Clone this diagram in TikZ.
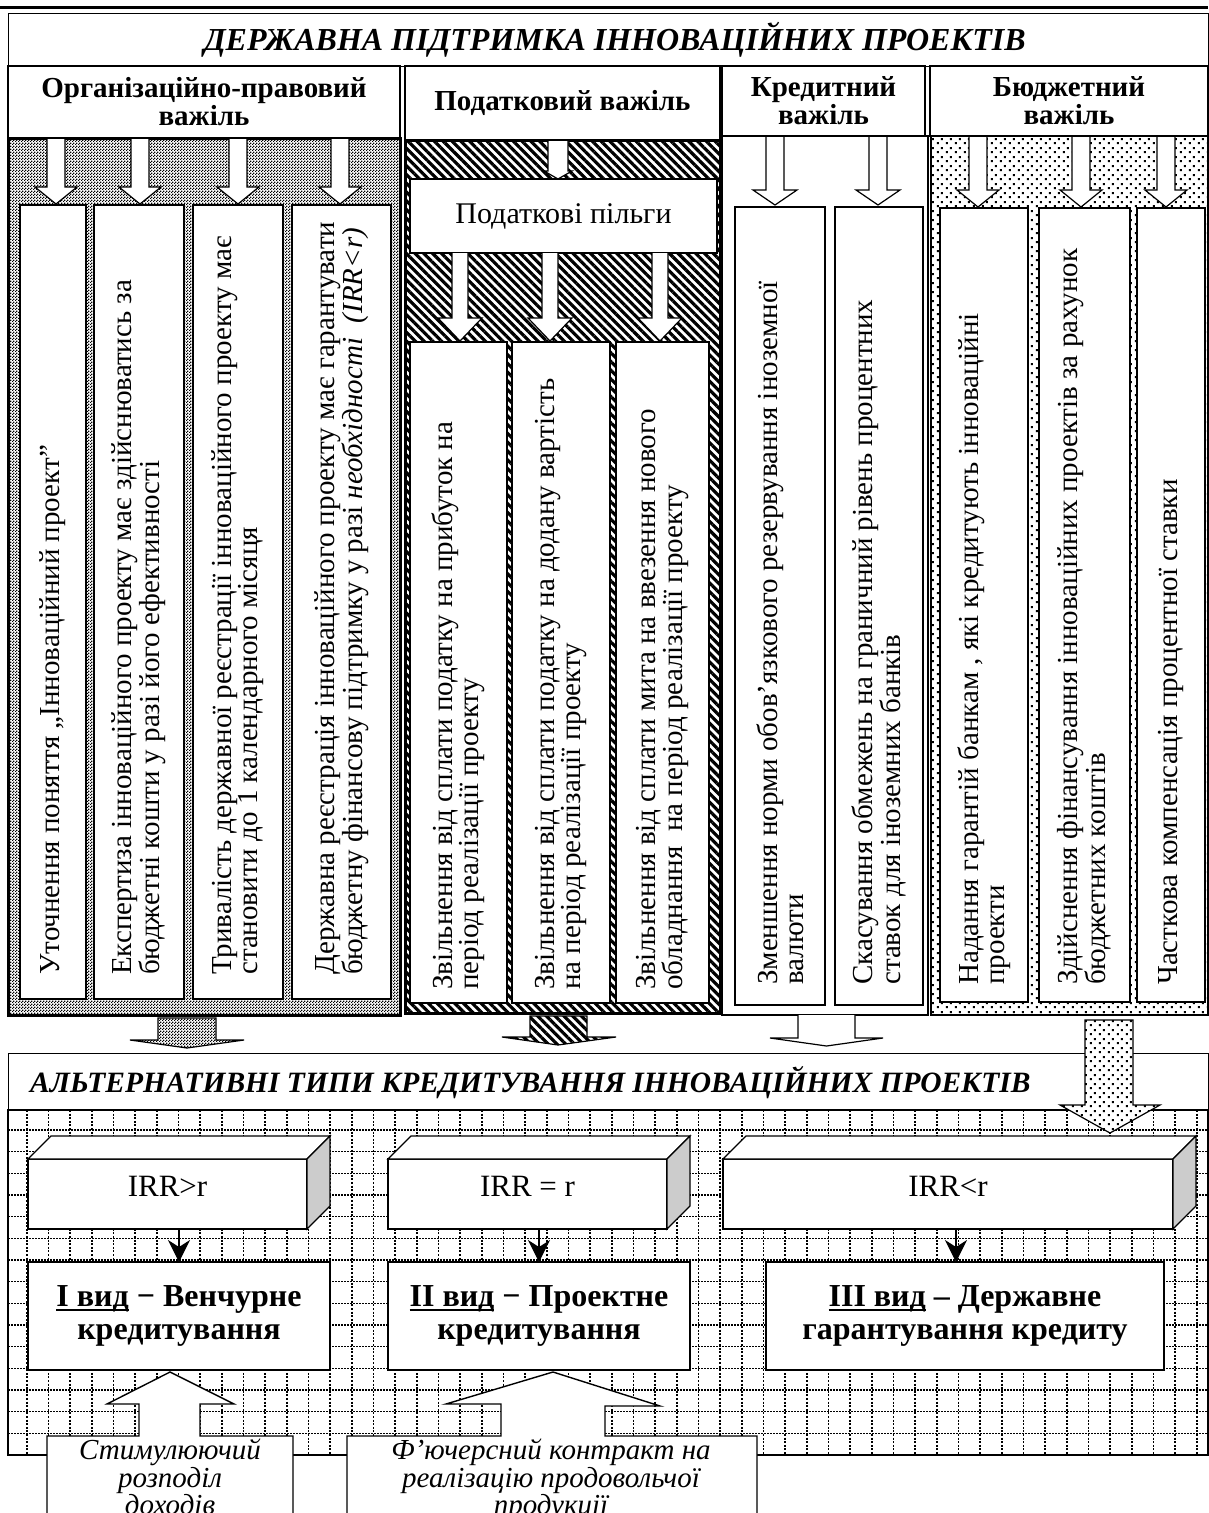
\documentclass[tikz,border=0pt]{standalone}
\usepackage{fontspec}
\setmainfont{Liberation Serif}
\usetikzlibrary{patterns,patterns.meta,arrows.meta,calc}

% fine black/white checkerboard
\pgfdeclarepatternformonly{checker}{\pgfpointorigin}{\pgfqpoint{3pt}{3pt}}{\pgfqpoint{3pt}{3pt}}{%
  \pgfpathrectangle{\pgfpointorigin}{\pgfqpoint{1.5pt}{1.5pt}}%
  \pgfpathrectangle{\pgfqpoint{1.5pt}{1.5pt}}{\pgfqpoint{1.5pt}{1.5pt}}%
  \pgfusepath{fill}}
% staggered square dots
\pgfdeclarepatternformonly{stagdots}{\pgfpointorigin}{\pgfqpoint{9pt}{9pt}}{\pgfqpoint{9pt}{9pt}}{%
  \pgfpathrectangle{\pgfqpoint{1pt}{1pt}}{\pgfqpoint{2.2pt}{2.2pt}}%
  \pgfpathrectangle{\pgfqpoint{5.5pt}{5.5pt}}{\pgfqpoint{2.2pt}{2.2pt}}%
  \pgfusepath{fill}}

\newcommand\fsz[2]{\fontsize{#1}{#2}\selectfont}
\newcommand\undl[1]{\setbox0\hbox{#1}\rlap{\rule[-4.5pt]{\wd0}{2.4pt}}\box0}
% block arrow: style, x, y top, y head base, y tip, half shaft, half head
\newcommand\blockarrow[7]{%
  \path[#1] (#2-#6,#3) -- (#2-#6,#4) -- (#2-#7,#4) -- (#2,#5) -- (#2+#7,#4) -- (#2+#6,#4) -- (#2+#6,#3);}
% cell with vertical text: name, x1, y1, x2, y2, bottom pad, xshift, text
\newcommand\vcell[8]{%
  \node[cell, minimum width={#4-#2}, minimum height={#5-#3}, anchor=north west] (#1) at (#2,#3) {};
  \node[vtext, xshift=#7pt] (#1t) at ($(#1.south)+(0,-#6)$) {#8};}

\begin{document}
\begin{tikzpicture}[x=1pt,y=-1pt,
  cell/.style={draw,fill=white,line width=1.2pt,inner sep=0pt,outer sep=0pt},
  vtext/.style={rotate=90,anchor=west,align=left,inner sep=0pt,font=\fsz{29}{26}},
  hdr/.style={draw,line width=2pt,fill=white,inner sep=0pt,outer sep=0pt,align=center,font=\bfseries\fsz{29}{28}},
  warrow/.style={draw,fill=white,line width=1.2pt,line join=miter},
  region/.style={draw,line width=3pt},
  stripes/.style={pattern={Lines[angle=-45,distance=6.2pt,line width=3.2pt]}},
  gridv/.style={line width=1.6pt,dash pattern=on 2pt off 1.6pt},
  gridh/.style={line width=1.3pt,dash pattern=on 1.5pt off 1.5pt},
  cube/.style={draw,fill=white,line width=1.3pt,inner sep=0pt,outer sep=0pt},
  kind/.style={draw,fill=white,line width=2pt,inner sep=0pt,outer sep=0pt,align=center,font=\bfseries\fsz{32}{33}},
  callout/.style={draw,fill=white,line width=1.4pt,line join=miter},
  ctext/.style={align=center,inner sep=0pt,font=\itshape\fsz{29}{22}},
  pointer/.style={line width=1.3pt,-{Stealth[length=22pt,width=22pt,inset=7pt]}}
]
\useasboundingbox (0,0) rectangle (1208,1513);
\fill[white] (0,0) rectangle (1208,1513);

% ---------- title ----------
\draw[line width=3pt] (0,7) -- (1208,7);
\node[draw,line width=1.4pt,minimum width=1200,minimum height=53,anchor=north west,inner sep=0pt] (title) at (8,13) {};
\node[font=\bfseries\itshape\fsz{32}{33},inner sep=0pt] at ([xshift=6pt]title.center) {ДЕРЖАВНА ПІДТРИМКА ІННОВАЦІЙНИХ ПРОЕКТІВ};

% ---------- headers ----------
\node[hdr,minimum width=392,minimum height=72,anchor=north west] (h1) at (8,66) {Організаційно-правовий\\важіль};
\node[hdr,minimum width=315,minimum height=74,anchor=north west] (h2) at (405,66) {Податковий важіль};
\node[hdr,minimum width=203,minimum height=70,anchor=north west] (h3) at (722,66) {Кредитний\\важіль};
\node[hdr,minimum width=278,minimum height=70,anchor=north west] (h4) at (930,66) {Бюджетний\\важіль};

% ---------- column regions ----------
\path[region,preaction={fill=white},pattern=checker] (8,138) rectangle (400,1015);
\path[region,preaction={fill=white},stripes] (405,140) rectangle (720,1013);
\path[draw,line width=1.5pt,fill=white] (722,136) rectangle (928,1015);
\path[draw,line width=1.5pt,preaction={fill=white},pattern=stagdots] (931,136) rectangle (1208,1015);

% organisational-legal lever
\foreach \x in {56,140,238,340} {\blockarrow{warrow}{\x}{139}{187}{204}{9}{21}}
\vcell{a1}{20}{205}{86}{999}{24}{0}{Уточнення поняття „Інноваційний проект”}
\vcell{a2}{94}{205}{184}{999}{24}{0}{Експертиза інноваційного проекту має здійснюватись за\\бюджетні кошти у разі його ефективності}
\vcell{a3}{193}{205}{283}{999}{24}{0}{Тривалість державної реєстрації інноваційного проекту має\\становити до 1 календарного місяця}
\vcell{a4}{292}{205}{391}{999}{24}{0}{Державна реєстрація інноваційного проекту має гарантувати\\бюджетну фінансову підтримку у разі \textit{необхідності}\ \ \textit{(IRR<r)}}

% tax lever
\blockarrow{warrow}{558}{141}{171}{179}{10}{14}
\node[cell,minimum width=307,minimum height=74,anchor=north west,font=\fsz{30}{30}] (tb) at (410,179) {Податкові пільги};
\foreach \x in {460,550,660} {\blockarrow{warrow}{\x}{253}{318}{341}{8}{22}}
\vcell{b1}{410}{342}{507}{1003}{13}{0}{Звільнення від сплати податку на прибуток на\\період реалізації проекту}
\vcell{b2}{512}{342}{610}{1003}{13}{0}{Звільнення від сплати податку на додану вартість\\на період реалізації проекту}
\vcell{b3}{616}{342}{709}{1003}{13}{0}{Звільнення від сплати мита на ввезення нового\\обладнання\ \ на період реалізації проекту}

% credit lever
\foreach \x in {775,878} {\blockarrow{warrow}{\x}{137}{190}{205}{9}{22}}
\vcell{c1}{735}{207}{825}{1005}{20}{0}{Зменшення норми обов’язкового резервування іноземної\\валюти}
\vcell{c2}{835}{207}{923}{1005}{20}{0}{Скасування обмежень на граничний рівень процентних\\ставок для іноземних банків}

% budget lever
\foreach \x in {978,1081,1166} {\blockarrow{warrow}{\x}{137}{190}{207}{9}{21}}
\vcell{d1}{940}{208}{1028}{1002}{17}{0}{Надання гарантій банкам , які кредитують інноваційні\\проекти}
\vcell{d2}{1039}{208}{1130}{1002}{17}{0}{Здійснення фінансування інноваційних проектів за рахунок\\бюджетних коштів}
\vcell{d3}{1137}{208}{1205}{1002}{17}{0}{Часткова компенсація процентної ставки}

% ---------- arrows into the lower block ----------
\path[draw,line width=1.2pt,preaction={fill=white},pattern=checker]
  (158,1018) -- (158,1040) -- (130,1040) -- (187,1048) -- (244,1040) -- (216,1040) -- (216,1018) -- cycle;
\path[draw,line width=1.2pt,preaction={fill=white},stripes]
  (530,1016) -- (530,1037) -- (502,1037) -- (558,1045) -- (616,1037) -- (587,1037) -- (587,1016) -- cycle;
\blockarrow{warrow}{826.5}{1015}{1038}{1046}{28.5}{56.5}

% ---------- alternative crediting ----------
\node[draw,line width=1.4pt,fill=white,minimum width=1200,minimum height=57,anchor=north west,inner sep=0pt] (alt) at (8,1053) {};
\node[anchor=west,inner sep=0pt,font=\bfseries\itshape\fsz{29.5}{30}] at ([xshift=22pt]alt.west) {АЛЬТЕРНАТИВНІ ТИПИ КРЕДИТУВАННЯ ІННОВАЦІЙНИХ ПРОЕКТІВ};

\fill[white] (8,1110) rectangle (1208,1455);
\begin{scope}
  \clip (8,1110) rectangle (1208,1455);
  \foreach \i in {0,...,54} {\draw[gridv] ({26.7+21.67*\i},1110) -- ++(0,345);}
  \foreach \j in {0,...,15} {\draw[gridh] (8,{1130+21.67*\j}) -- (1208,{1130+21.67*\j});}
\end{scope}
\draw[line width=1.5pt] (8,1110) rectangle (1208,1455);

% dotted arrow from the budget lever
\path[draw,line width=1.2pt,preaction={fill=white},pattern=stagdots]
  (1085,1020) -- (1085,1105) -- (1060,1105) -- (1110,1133) -- (1160,1105) -- (1133,1105) -- (1133,1020) -- cycle;

% IRR blocks
\newcommand\block[6]{%
  \node[cube,minimum width={#4-#2},minimum height={#5-#3},anchor=north west] (#1) at (#2,#3) {};
  \draw[line width=1.3pt,fill=white,line join=miter] (#1.north west) -- ++(23,-23) -- ([shift={(23,-23)}]#1.north east) -- (#1.north east) -- cycle;
  \draw[line width=1.3pt,fill=gray!40,line join=miter] (#1.north east) -- ++(23,-23) -- ([shift={(23,-23)}]#1.south east) -- (#1.south east) -- cycle;
  \node[inner sep=0pt,font=\fsz{31}{33}] (#1t) at ([yshift=8pt]#1.center) {#6};}
\block{irr1}{28}{1159}{307}{1229}{IRR>r}
\block{irr2}{388}{1159}{667}{1229}{IRR = r}
\block{irr3}{723}{1159}{1173}{1229}{IRR<r}

\node[kind,minimum width=302,minimum height=108,anchor=north west] (v1) at (28,1262) {\undl{І вид}\ −\ Венчурне\\кредитування};
\node[kind,minimum width=302,minimum height=108,anchor=north west] (v2) at (388,1262) {\undl{ІІ вид}\ −\ Проектне\\кредитування};
\node[kind,minimum width=398,minimum height=108,anchor=north west] (v3) at (766,1262) {\undl{ІІІ вид}\ –\ Державне\\гарантування кредиту};

\draw[pointer] (v1.north |- irr1.south) -- (v1.north);
\draw[pointer] (v2.north |- irr2.south) -- (v2.north);
\draw[pointer] ([xshift=-9pt]v3.north |- irr3.south) -- ([xshift=-9pt]v3.north);

% call-outs
\path[callout] (47,1520) -- (47,1436) -- (139,1436) -- (139,1404) -- (107,1404) -- (170,1372)
  -- (234,1404) -- (200,1404) -- (200,1436) -- (293,1436) -- (293,1520);
\node[ctext,anchor=north] (s1) at (170,1439) {Стимулюючий\\розподіл\\доходів};
\path[callout] (347,1520) -- (347,1436) -- (501,1436) -- (501,1404) -- (446,1404) -- (553,1372)
  -- (660,1406) -- (605,1406) -- (605,1436) -- (757,1436) -- (757,1520);
\node[ctext,anchor=north] (s2) at (551,1439) {Ф’ючерсний контракт на\\реалізацію продовольчої\\продукції};
\end{tikzpicture}
\end{document}
